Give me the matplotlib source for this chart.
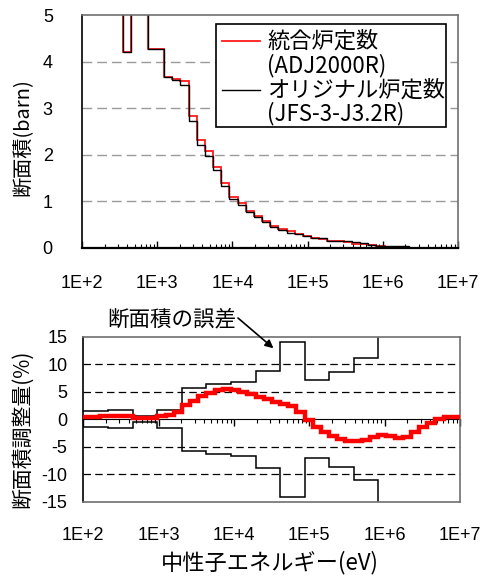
import numpy as np
import matplotlib.pyplot as plt
from matplotlib.ticker import FixedLocator, NullFormatter, LogLocator
from matplotlib.patches import Rectangle

plt.rcParams['font.family'] = ['Noto Sans CJK JP', 'DejaVu Sans']

# JFS-3 group boundaries (eV), lethargy width 0.25, low -> high energy
EDGES = [7.8893e1, 1.0130e2, 1.3007e2, 1.6702e2, 2.1445e2, 2.7536e2, 3.5357e2,
         4.5400e2, 5.8295e2, 7.4852e2, 9.6112e2, 1.2341e3, 1.5846e3, 2.0347e3,
         2.6126e3, 3.3546e3, 4.3074e3, 5.5308e3, 7.1017e3, 9.1188e3, 1.1709e4,
         1.5034e4, 1.9305e4, 2.4788e4, 3.1828e4, 4.0868e4, 5.2475e4, 6.7379e4,
         8.6517e4, 1.1109e5, 1.4264e5, 1.8316e5, 2.3518e5, 3.0197e5, 3.8774e5,
         4.9787e5, 6.3928e5, 8.2085e5, 1.0540e6, 1.3534e6, 1.7377e6, 2.2313e6,
         2.8650e6, 3.6788e6, 4.7237e6, 6.0653e6, 7.7880e6, 1.0000e7]

# cross section (barn), adjusted library ADJ2000R
XS_ADJ = [6.8, 7.5, 9.0, 12.0, 10.0, 6.5, 4.21, 8.0, 11.0, 4.28, 4.28, 3.66,
          3.62, 3.58, 2.83, 2.32, 2.08, 1.73, 1.39, 1.10, 0.96, 0.80, 0.68,
          0.57, 0.47, 0.40, 0.36, 0.29, 0.25, 0.21, 0.19, 0.16, 0.15, 0.13,
          0.09, 0.08, 0.06, 0.05, 0.015, 0.015, 0.01, 0.01, 0.01, 0.01, 0.01,
          0.01, 0.01]
# cross section (barn), original library JFS-3-J3.2R
XS_JFS = [6.8, 7.5, 9.0, 12.0, 10.0, 6.5, 4.21, 8.0, 11.0, 4.28, 4.28, 3.66,
          3.60, 3.50, 2.73, 2.22, 1.98, 1.68, 1.32, 1.06, 0.93, 0.77, 0.67,
          0.56, 0.46, 0.39, 0.33, 0.29, 0.25, 0.21, 0.22, 0.16, 0.15, 0.14,
          0.12, 0.10, 0.07, 0.05, 0.04, 0.04, 0.035, 0.01, 0.01, 0.01, 0.01,
          0.01, 0.01]

# adjustment (%) and cross section error (%)
ADJ_PCT = [0.4, 0.4, 0.45, 0.5, 0.5, 0.5, 0.5, 0.3, 0.3, 0.3, 0.5, 0.85, 1.3,
           2.6, 3.4, 4.2, 4.8, 5.3, 5.5, 5.3, 4.9, 4.5, 4.1, 3.7, 3.2, 2.8,
           2.4, 1.3, -0.2, -1.5, -2.3, -3.1, -3.6, -3.9, -4.0, -3.8, -3.3,
           -2.9, -3.1, -3.5, -3.2, -2.3, -1.5, -0.7, 0.1, 0.4, 0.4]
ERR_PCT = [1.5, 1.5, 1.5, 1.5, 1.6, 1.6, 1.6, 0.5, 0.5, 0.5, 1.6, 1.6, 1.6,
           5.7, 5.7, 5.7, 6.4, 6.4, 6.4, 6.7, 6.7, 6.7, 8.8, 8.8, 8.8, 14.1,
           14.1, 14.1, 7.1, 7.1, 7.1, 8.6, 8.6, 8.6, 11.1, 11.1, 11.1, 17.5,
           17.5, 17.5, 21.0, 21.0, 21.0, 24.0, 24.0, 24.0, 26.0]

DECADES = [1e2, 1e3, 1e4, 1e5, 1e6, 1e7]
DECADE_LABELS = ['1E+2', '1E+3', '1E+4', '1E+5', '1E+6', '1E+7']
TICK_FONT = 'Liberation Sans'

edges = np.array(EDGES)

fig = plt.figure(figsize=(4.81, 5.77), dpi=100)
ax1 = fig.add_axes([82 / 481, 1 - 248 / 577, 376 / 481, 233 / 577])
ax2 = fig.add_axes([83.3 / 481, 1 - 501.7 / 577, 376.7 / 481, 165 / 577])

# ---- top: cross sections
ax1.stairs(XS_ADJ, edges, baseline=None, color='#ff1a1a', linewidth=1.3)
ax1.stairs(XS_JFS, edges, baseline=None, color='black', linewidth=1.0)
ax1.set_xscale('log')
ax1.set_xlim(1e2, 1e7)
ax1.set_ylim(0, 5)
ax1.set_yticks([0, 1, 2, 3, 4, 5])
ax1.set_yticklabels(['0', '1', '2', '3', '4', '5'], fontfamily=TICK_FONT, fontsize=13)
ax1.set_xticks(DECADES)
ax1.set_xticklabels(DECADE_LABELS, fontfamily=TICK_FONT, fontsize=13)
ax1.xaxis.set_minor_locator(LogLocator(base=10, subs=np.arange(2, 10)))
ax1.xaxis.set_minor_formatter(NullFormatter())
ax1.tick_params(axis='x', which='major', direction='in', length=5, width=1, pad=19.5)
ax1.tick_params(axis='x', which='minor', direction='in', length=3, width=0.8)
ax1.tick_params(axis='y', length=0, pad=21)
ax1.yaxis.set_major_locator(FixedLocator([0, 1, 2, 3, 4, 5]))
for y in [1, 2, 3, 4]:
    ax1.axhline(y, color='#9a9a9a', linewidth=1.0, linestyle=(0, (7, 3.6)), zorder=0)
ax1.spines['left'].set_linewidth(1.2)
ax1.spines['bottom'].set_linewidth(1.6)
for s in ['top', 'right']:
    ax1.spines[s].set_color('#707070')
    ax1.spines[s].set_linewidth(1.2)
ax1.set_ylabel('断面積(barn)', fontsize=14.5)
ax1.yaxis.set_label_coords(-0.13, 0.476)

# legend drawn by hand so the line sits by the first text row
ax1.add_patch(Rectangle((0.356, 0.518), 0.611, 0.442, transform=ax1.transAxes,
                        facecolor='white', edgecolor='black', linewidth=1.2, zorder=5))
ax1.plot([0.372, 0.473], [0.890, 0.890], transform=ax1.transAxes,
         color='#ff1a1a', linewidth=1.3, zorder=6)
ax1.plot([0.372, 0.473], [0.678, 0.678], transform=ax1.transAxes,
         color='black', linewidth=1.0, zorder=6)
legend_rows = [('統合炉定数', 0.888), ('(ADJ2000R)', 0.785),
               ('オリジナル炉定数', 0.678), ('(JFS-3-J3.2R)', 0.575)]
for txt, yy in legend_rows:
    ax1.text(0.492, yy, txt, transform=ax1.transAxes, fontsize=16,
             va='center', ha='left', zorder=7)

# ---- bottom: adjustment and error
ax2.stairs(ERR_PCT, edges, baseline=None, color='black', linewidth=1.1)
ax2.stairs(-np.array(ERR_PCT), edges, baseline=None, color='black', linewidth=1.1)
ax2.stairs(ADJ_PCT, edges, baseline=None, color='#ff0000', linewidth=3.2,
           joinstyle='miter', zorder=4)
ax2.set_xscale('log')
ax2.set_xlim(1e2, 1e7)
ax2.set_ylim(-15, 15)
ax2.set_yticks([-15, -10, -5, 0, 5, 10, 15])
ax2.set_yticklabels(['-15', '-10', '-5', '0', '5', '10', '15'],
                    fontfamily=TICK_FONT, fontsize=13)
ax2.set_xticks(DECADES)
ax2.set_xticklabels(DECADE_LABELS, fontfamily=TICK_FONT, fontsize=13)
ax2.xaxis.set_minor_locator(LogLocator(base=10, subs=np.arange(2, 10)))
ax2.xaxis.set_minor_formatter(NullFormatter())
ax2.tick_params(axis='x', which='both', length=0, pad=18)
ax2.tick_params(axis='y', length=0, pad=11.5)
for y in [-10, -5, 5, 10]:
    ax2.axhline(y, color='black', linewidth=0.9, linestyle=(0, (6, 3.4)), zorder=0)
ax2.spines['left'].set_linewidth(1.2)
for s in ['top', 'right', 'bottom']:
    ax2.spines[s].set_color('#707070')
    ax2.spines[s].set_linewidth(1.2)

# axis line with ticks crossing at zero
zero_axis = ax2.secondary_xaxis(0.5)
zero_axis.set_xticks(DECADES)
zero_axis.xaxis.set_major_formatter(NullFormatter())
zero_axis.xaxis.set_minor_locator(LogLocator(base=10, subs=np.arange(2, 10)))
zero_axis.xaxis.set_minor_formatter(NullFormatter())
zero_axis.tick_params(axis='x', which='major', direction='in', length=5,
                      width=1, labelbottom=False, labeltop=False)
zero_axis.tick_params(axis='x', which='minor', direction='in', length=3, width=0.8)
zero_axis.spines['bottom'].set_linewidth(1.2)

ax2.set_ylabel('断面積調整量(%)', fontsize=15)
ax2.yaxis.set_label_coords(-0.134, 0.44)

ax2.text(1.067e4, 18.2, '断面積の誤差', fontsize=15.5, ha='right', va='center')
ax2.annotate('', xy=(3.34e4, 12.9), xytext=(1.13e4, 18.4),
             arrowprops=dict(arrowstyle='-|>', color='black', lw=1.2,
                             mutation_scale=12, shrinkA=0, shrinkB=0),
             annotation_clip=False)

fig.text(270 / 481, 1 - 562.5 / 577, '中性子エネルギー(eV)', fontsize=16,
         ha='center', va='center')

fig.savefig('out.png', dpi=100)
